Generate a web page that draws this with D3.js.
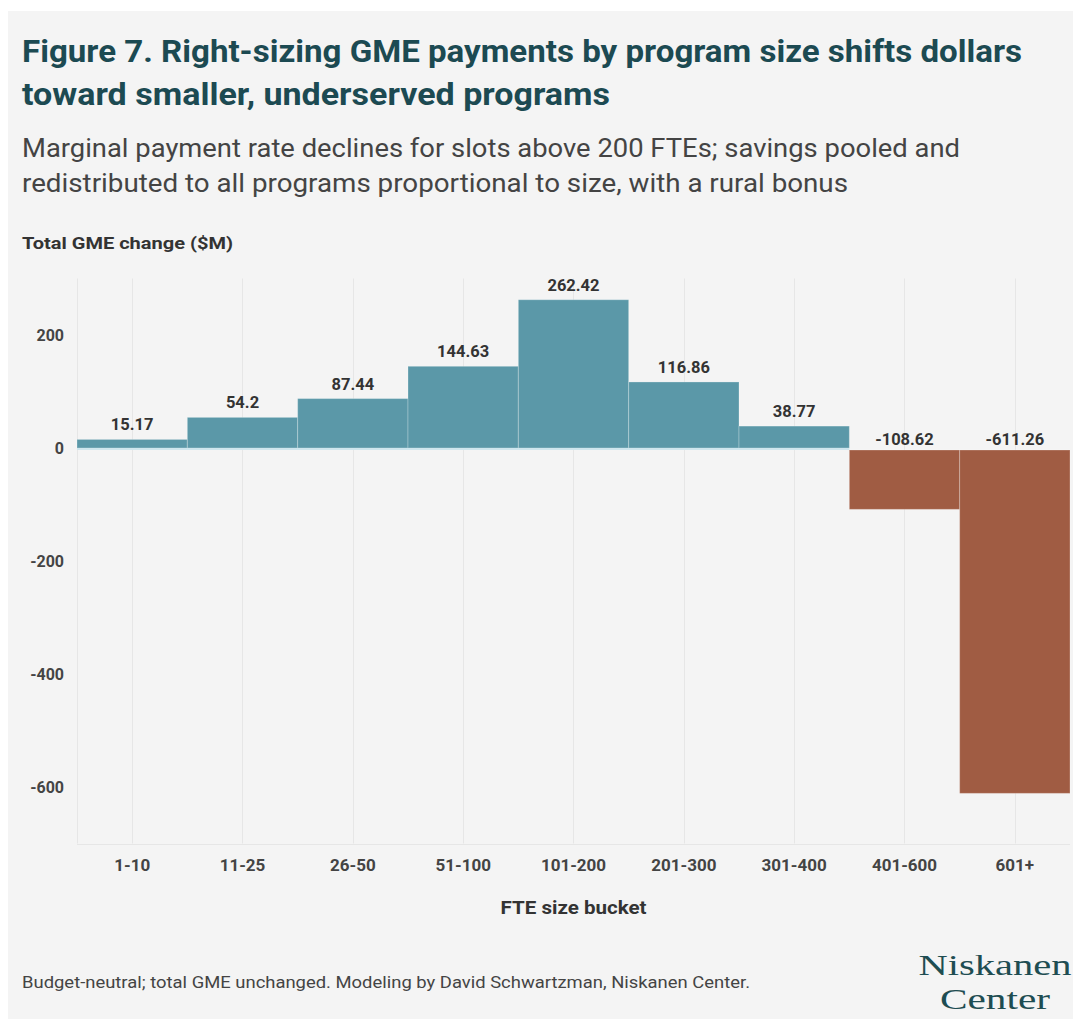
<!DOCTYPE html>
<html>
<head>
<meta charset="utf-8">
<script src="https://cdn.jsdelivr.net/npm/d3@7"></script>
<style>
  html, body { margin: 0; padding: 0; background: #ffffff; }
  svg { display: block; }
</style>
</head>
<body>
<script>
// FTE size buckets and the change in total GME payments ($M) for each
const buckets = ["1-10", "11-25", "26-50", "51-100", "101-200", "201-300", "301-400", "401-600", "601+"];
const gmeChange = [15.17, 54.2, 87.44, 144.63, 262.42, 116.86, 38.77, -108.62, -611.26];
const valueLabels = ["15.17", "54.2", "87.44", "144.63", "262.42", "116.86", "38.77", "-108.62", "-611.26"];
const yTicks = [200, 0, -200, -400, -600];

const titleLines = [
  "Figure 7. Right-sizing GME payments by program size shifts dollars",
  "toward smaller, underserved programs"
];
const subtitleLines = [
  "Marginal payment rate declines for slots above 200 FTEs; savings pooled and",
  "redistributed to all programs proportional to size, with a rural bonus"
];
const yTitle = "Total GME change ($M)";
const xTitle = "FTE size bucket";
const footer = "Budget-neutral; total GME unchanged. Modeling by David Schwartzman, Niskanen Center.";
const logoLines = ["Niskanen", "Center"];

const W = 1073, H = 1019;
const sans = "Roboto, 'Noto Sans', sans-serif";
const serif = "'Liberation Serif', 'DejaVu Serif', serif";

const svg = d3.select("body").append("svg")
  .attr("width", W).attr("height", H);

// panel background
svg.append("rect")
  .attr("x", 8).attr("y", 11)
  .attr("width", W - 8).attr("height", H - 11)
  .attr("fill", "#f4f4f4");

// headline, set to the panel's text column widths
const titleWidths = [1000, 588];
svg.append("g").selectAll("text").data(titleLines).join("text")
  .attr("x", 22).attr("y", (d, i) => 62 + i * 43)
  .attr("font-family", sans).attr("font-weight", 700)
  .attr("font-size", 32).attr("fill", "#1c4a52")
  .attr("textLength", (d, i) => titleWidths[i])
  .attr("lengthAdjust", "spacingAndGlyphs")
  .text(d => d);

const subtitleWidths = [938, 826];
svg.append("g").selectAll("text").data(subtitleLines).join("text")
  .attr("x", 22).attr("y", (d, i) => 157 + i * 35)
  .attr("font-family", sans).attr("font-weight", 400)
  .attr("font-size", 26).attr("fill", "#444444")
  .attr("textLength", (d, i) => subtitleWidths[i])
  .attr("lengthAdjust", "spacingAndGlyphs")
  .text(d => d);

svg.append("text")
  .attr("x", 22).attr("y", 249)
  .attr("font-family", sans).attr("font-weight", 700)
  .attr("font-size", 17).attr("fill", "#333333")
  .attr("textLength", 211).attr("lengthAdjust", "spacingAndGlyphs")
  .text(yTitle);

// scales
const x = d3.scaleBand().domain(buckets).range([77, 1070]).paddingInner(0).paddingOuter(0);
const y = d3.scaleLinear().domain([-700, 300]).range([843.5, 278.5]);

// grid: left edge, bucket centres, bottom edge
const grid = svg.append("g").attr("stroke", "#e6e6e6").attr("stroke-width", 1);
grid.append("line")
  .attr("x1", x.range()[0] + 0.5).attr("x2", x.range()[0] + 0.5)
  .attr("y1", y(300)).attr("y2", y(-700));
grid.selectAll("line.c").data(buckets).join("line").attr("class", "c")
  .attr("x1", d => Math.round(x(d) + x.bandwidth() / 2) + 0.5)
  .attr("x2", d => Math.round(x(d) + x.bandwidth() / 2) + 0.5)
  .attr("y1", y(300)).attr("y2", y(-700));
grid.append("line")
  .attr("x1", x.range()[0]).attr("x2", x.range()[1])
  .attr("y1", Math.round(y(-700)) + 0.5).attr("y2", Math.round(y(-700)) + 0.5);

// y axis labels
const yAxis = d3.axisLeft(y).tickValues(yTicks).tickSize(0).tickPadding(0)
  .tickFormat(d => String(d));
const yg = svg.append("g").attr("transform", "translate(64,0)").call(yAxis);
yg.select(".domain").remove();
yg.selectAll("text")
  .attr("font-family", sans).attr("font-weight", 700)
  .attr("font-size", 16).attr("fill", "#444444");

// x axis labels
const xAxis = d3.axisBottom(x).tickSize(0).tickPadding(0);
const xg = svg.append("g").attr("transform", "translate(0,859)").call(xAxis);
xg.select(".domain").remove();
xg.selectAll("text")
  .attr("font-family", sans).attr("font-weight", 700)
  .attr("font-size", 17).attr("fill", "#444444");

svg.append("text")
  .attr("x", (x.range()[0] + x.range()[1]) / 2).attr("y", 914)
  .attr("text-anchor", "middle")
  .attr("font-family", sans).attr("font-weight", 700)
  .attr("font-size", 18).attr("fill", "#333333")
  .attr("textLength", 146).attr("lengthAdjust", "spacingAndGlyphs")
  .text(xTitle);

// bars
const data = buckets.map((b, i) => ({ b, v: gmeChange[i], label: valueLabels[i] }));
svg.append("g").selectAll("rect").data(data).join("rect")
  .attr("x", d => x(d.b))
  .attr("width", x.bandwidth())
  .attr("y", d => d.v >= 0 ? y(d.v) : y(0) + 2)
  .attr("height", d => d.v >= 0 ? y(0) - y(d.v) : y(d.v) - y(0) - 2)
  .attr("fill", d => d.v >= 0 ? "#5b98a8" : "#a05c43")
  .attr("stroke", "rgba(255,255,255,0.25)")
  .attr("stroke-width", 1);

// zero line
svg.append("line")
  .attr("x1", x.range()[0]).attr("x2", x(buckets[7]))
  .attr("y1", y(0) + 1).attr("y2", y(0) + 1)
  .attr("stroke", "#cfe6ee").attr("stroke-width", 2);

// value labels
svg.append("g").selectAll("text").data(data).join("text")
  .attr("x", d => x(d.b) + x.bandwidth() / 2)
  .attr("y", d => d.v >= 0 ? y(d.v) - 9 : y(0) - 3)
  .attr("text-anchor", "middle")
  .attr("font-family", sans).attr("font-weight", 700)
  .attr("font-size", 16.5).attr("fill", "#333333")
  .text(d => d.label);

// footer
svg.append("text")
  .attr("x", 22).attr("y", 988)
  .attr("font-family", sans).attr("font-weight", 400)
  .attr("font-size", 16.5).attr("fill", "#444444")
  .attr("textLength", 728).attr("lengthAdjust", "spacingAndGlyphs")
  .text(footer);

// logo wordmark, two stacked lines
const logoWidths = [153, 110];
svg.append("g").selectAll("text").data(logoLines).join("text")
  .attr("x", 995).attr("y", (d, i) => 975 + i * 34)
  .attr("text-anchor", "middle")
  .attr("font-family", serif).attr("font-weight", 400)
  .attr("font-size", 30).attr("fill", "#1e4d52")
  .attr("textLength", (d, i) => logoWidths[i])
  .attr("lengthAdjust", "spacingAndGlyphs")
  .text(d => d);
</script>
</body>
</html>
